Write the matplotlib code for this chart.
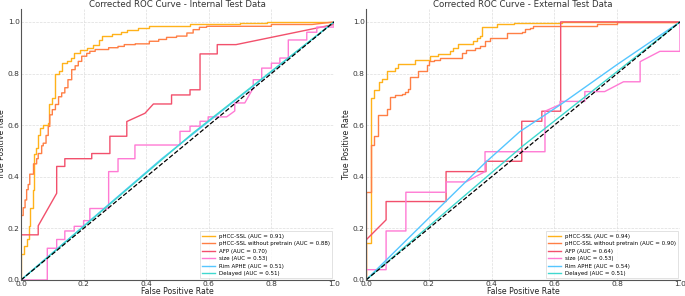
import matplotlib
matplotlib.use("Agg")
import matplotlib.pyplot as plt

labels = ["pHCC-SSL", "pHCC-SSL without pretrain", "AFP", "size", "Rim APHE", "Delayed"]
colors = ["#FFB21A", "#FF7F45", "#F2506C", "#FF7AD4", "#55C6FF", "#3FD8CF"]

# internal test data: (fpr, tpr) vertices per model
int_auc = [0.91, 0.88, 0.70, 0.53, 0.51, 0.51]
int_fpr = [
    [0, 0, 0.01, 0.01, 0.018, 0.018, 0.025, 0.025, 0.03, 0.03, 0.037, 0.037, 0.043, 0.043,
     0.047, 0.047, 0.055, 0.055, 0.06, 0.06, 0.071, 0.071, 0.085, 0.085, 0.09, 0.09, 0.1, 0.1,
     0.108, 0.108, 0.12, 0.12, 0.13, 0.13, 0.146, 0.146, 0.16, 0.16, 0.17, 0.17, 0.19, 0.19,
     0.21, 0.21, 0.23, 0.23, 0.25, 0.25, 0.26, 0.26, 0.29, 0.29, 0.32, 0.32, 0.34, 0.34,
     0.375, 0.375, 0.41, 0.41, 0.54, 0.54, 0.70, 0.70, 0.785, 0.785, 1.0],
    [0, 0, 0.007, 0.007, 0.013, 0.013, 0.018, 0.018, 0.023, 0.023, 0.028, 0.028, 0.04, 0.04,
     0.05, 0.05, 0.055, 0.055, 0.066, 0.066, 0.071, 0.071, 0.08, 0.08, 0.087, 0.087, 0.092, 0.092,
     0.1, 0.1, 0.11, 0.11, 0.12, 0.12, 0.13, 0.13, 0.14, 0.14, 0.15, 0.15, 0.162, 0.162,
     0.173, 0.173, 0.183, 0.183, 0.194, 0.194, 0.21, 0.21, 0.22, 0.22, 0.237, 0.237, 0.28, 0.28,
     0.31, 0.31, 0.33, 0.33, 0.365, 0.365, 0.41, 0.41, 0.44, 0.44, 0.465, 0.465, 0.497, 0.497,
     0.53, 0.53, 0.55, 0.55, 0.57, 0.57, 0.593, 0.593, 0.80, 0.80, 0.93, 1.0],
    [0, 0, 0.055, 0.055, 0.114, 0.114, 0.14, 0.14, 0.226, 0.226, 0.284, 0.284, 0.338, 0.338,
     0.396, 0.423, 0.481, 0.481, 0.54, 0.54, 0.572, 0.572, 0.627, 0.627, 0.687, 1.0, 1.0],
    [0, 0.084, 0.084, 0.114, 0.114, 0.14, 0.14, 0.17, 0.17, 0.2, 0.2, 0.22, 0.22, 0.28, 0.28,
     0.31, 0.31, 0.364, 0.364, 0.508, 0.508, 0.54, 0.54, 0.572, 0.572, 0.598, 0.598, 0.657,
     0.683, 0.683, 0.715, 0.742, 0.742, 0.769, 0.769, 0.80, 0.80, 0.827, 0.827, 0.854, 0.854,
     0.913, 0.913, 0.945, 0.945, 1.0, 1.0],
    [0, 0.45, 1.0],
    [0, 0.55, 1.0],
]
int_tpr = [
    [0, 0.10, 0.10, 0.13, 0.13, 0.16, 0.16, 0.21, 0.21, 0.28, 0.28, 0.35, 0.35, 0.49,
     0.49, 0.51, 0.51, 0.56, 0.56, 0.59, 0.59, 0.60, 0.60, 0.61, 0.61, 0.68, 0.68, 0.705,
     0.705, 0.80, 0.80, 0.81, 0.81, 0.84, 0.84, 0.85, 0.85, 0.86, 0.86, 0.88, 0.88, 0.893,
     0.893, 0.90, 0.90, 0.912, 0.912, 0.93, 0.93, 0.945, 0.945, 0.953, 0.953, 0.96, 0.96, 0.97,
     0.97, 0.977, 0.977, 0.983, 0.983, 0.99, 0.99, 0.995, 0.995, 1.0, 1.0],
    [0, 0.25, 0.25, 0.28, 0.28, 0.31, 0.31, 0.35, 0.35, 0.37, 0.37, 0.41, 0.41, 0.45,
     0.45, 0.47, 0.47, 0.49, 0.49, 0.52, 0.52, 0.53, 0.53, 0.56, 0.56, 0.595, 0.595, 0.64,
     0.64, 0.66, 0.66, 0.68, 0.68, 0.71, 0.71, 0.725, 0.725, 0.745, 0.745, 0.776, 0.776, 0.815,
     0.815, 0.83, 0.83, 0.847, 0.847, 0.867, 0.867, 0.878, 0.878, 0.886, 0.886, 0.893, 0.893, 0.90,
     0.90, 0.905, 0.905, 0.912, 0.912, 0.915, 0.915, 0.925, 0.925, 0.932, 0.932, 0.94, 0.94, 0.945,
     0.945, 0.957, 0.957, 0.97, 0.97, 0.979, 0.979, 0.983, 0.983, 0.99, 0.99, 1.0],
    [0, 0.175, 0.175, 0.21, 0.336, 0.44, 0.44, 0.47, 0.47, 0.49, 0.49, 0.557, 0.557, 0.614,
     0.646, 0.682, 0.682, 0.717, 0.717, 0.737, 0.737, 0.876, 0.876, 0.912, 0.912, 0.99, 1.0],
    [0, 0, 0.123, 0.123, 0.157, 0.157, 0.19, 0.19, 0.208, 0.208, 0.23, 0.23, 0.277, 0.277, 0.42,
     0.42, 0.47, 0.47, 0.523, 0.523, 0.576, 0.576, 0.596, 0.596, 0.615, 0.615, 0.632, 0.632,
     0.655, 0.686, 0.686, 0.744, 0.776, 0.776, 0.821, 0.821, 0.84, 0.84, 0.86, 0.86, 0.93,
     0.93, 0.96, 0.96, 0.98, 0.98, 1.0],
    [0, 0.47, 1.0],
    [0, 0.57, 1.0],
]

# external test data
ext_auc = [0.94, 0.90, 0.64, 0.53, 0.54, 0.51]
ext_fpr = [
    [0, 0, 0.015, 0.015, 0.026, 0.026, 0.04, 0.04, 0.05, 0.05, 0.066, 0.066, 0.092, 0.092,
     0.103, 0.103, 0.156, 0.156, 0.204, 0.204, 0.23, 0.23, 0.268, 0.268, 0.278, 0.278,
     0.294, 0.294, 0.342, 0.342, 0.352, 0.352, 0.363, 0.363, 0.37, 0.37, 0.416, 0.416,
     0.47, 0.47, 0.623, 0.623, 1.0],
    [0, 0, 0.015, 0.015, 0.026, 0.026, 0.039, 0.039, 0.066, 0.066, 0.076, 0.076, 0.092, 0.092,
     0.114, 0.114, 0.125, 0.125, 0.135, 0.135, 0.14, 0.14, 0.167, 0.167, 0.193, 0.193, 0.2, 0.2,
     0.215, 0.215, 0.236, 0.236, 0.268, 0.268, 0.305, 0.305, 0.32, 0.32, 0.347, 0.347,
     0.363, 0.363, 0.379, 0.379, 0.395, 0.395, 0.448, 0.448, 0.496, 0.496, 0.506, 0.506,
     0.522, 0.522, 0.533, 0.533, 0.735, 0.735, 0.798, 0.798, 1.0],
    [0, 0, 0.064, 0.064, 0.255, 0.255, 0.382, 0.382, 0.496, 0.496, 0.56, 0.56, 0.62, 0.62, 1.0],
    [0, 0, 0.064, 0.064, 0.127, 0.127, 0.255, 0.255, 0.318, 0.379, 0.379, 0.57, 0.57, 0.618,
     0.618, 0.697, 0.697, 0.76, 0.82, 0.873, 0.873, 0.936, 1.0, 1.0],
    [0, 0.2, 0.38, 0.49, 0.62, 0.8, 1.0],
    [0, 0.5, 1.0],
]
ext_tpr = [
    [0, 0.145, 0.145, 0.705, 0.705, 0.737, 0.737, 0.768, 0.768, 0.777, 0.777, 0.808, 0.808, 0.822,
     0.822, 0.837, 0.837, 0.854, 0.854, 0.867, 0.867, 0.876, 0.876, 0.886, 0.886, 0.90,
     0.90, 0.914, 0.914, 0.925, 0.925, 0.938, 0.938, 0.945, 0.945, 0.982, 0.982, 0.992,
     0.992, 0.997, 0.997, 1.0, 1.0],
    [0, 0.342, 0.342, 0.525, 0.525, 0.557, 0.557, 0.638, 0.638, 0.663, 0.663, 0.708, 0.708, 0.716,
     0.716, 0.721, 0.721, 0.73, 0.73, 0.74, 0.74, 0.785, 0.785, 0.808, 0.808, 0.832, 0.832, 0.847,
     0.847, 0.854, 0.854, 0.86, 0.86, 0.862, 0.862, 0.878, 0.878, 0.893, 0.893, 0.899,
     0.899, 0.906, 0.906, 0.925, 0.925, 0.937, 0.937, 0.958, 0.958, 0.962, 0.962, 0.971,
     0.971, 0.978, 0.978, 0.984, 0.984, 0.992, 0.992, 1.0, 1.0],
    [0, 0.155, 0.233, 0.304, 0.304, 0.42, 0.42, 0.46, 0.46, 0.615, 0.615, 0.654, 0.654, 1.0, 1.0],
    [0, 0.04, 0.04, 0.19, 0.19, 0.34, 0.34, 0.38, 0.38, 0.42, 0.497, 0.497, 0.654, 0.68,
     0.692, 0.692, 0.73, 0.73, 0.768, 0.768, 0.846, 0.886, 0.886, 1.0],
    [0, 0.24, 0.455, 0.575, 0.68, 0.835, 1.0],
    [0, 0.52, 1.0],
]

fig = plt.figure(figsize=(6.85, 2.96), dpi=100)
ax1 = fig.add_axes([21 / 685, 16 / 296, 313 / 685, 271 / 296])
ax2 = fig.add_axes([366 / 685, 16 / 296, 314 / 685, 271 / 296])

panels = [(ax1, "Corrected ROC Curve - Internal Test Data", int_fpr, int_tpr, int_auc),
          (ax2, "Corrected ROC Curve - External Test Data", ext_fpr, ext_tpr, ext_auc)]

for ax, title, fprs, tprs, aucs in panels:
    for fpr, tpr, auc, lab, col in zip(fprs, tprs, aucs, labels, colors):
        ax.plot(fpr, tpr, color=col, lw=1.0, label=f"{lab} (AUC = {auc:.2f})")
    ax.plot([0, 1], [0, 1], "k--", lw=0.9)
    ax.set_xlim(0, 1)
    ax.set_ylim(0, 1.05)
    ax.set_xticks([0, 0.2, 0.4, 0.6, 0.8, 1.0])
    ax.set_yticks([0, 0.2, 0.4, 0.6, 0.8, 1.0])
    ax.grid(True, color="#dddddd", ls="--", lw=0.5)
    ax.set_axisbelow(True)
    for s in ["top", "right"]:
        ax.spines[s].set_visible(False)
    for s in ["left", "bottom"]:
        ax.spines[s].set_color("#555555")
        ax.spines[s].set_linewidth(0.8)
    ax.tick_params(length=0, pad=1, labelsize=5.4, colors="#333333")
    ax.set_xlabel("False Positive Rate", fontsize=5.6, labelpad=0, color="#222222")
    ax.set_ylabel("True Positive Rate", fontsize=5.6, labelpad=1.5, color="#222222")
    ax.set_title(title, fontsize=6.2, pad=1.5, color="#333333")
    leg = ax.legend(loc="lower right", fontsize=4, frameon=True, borderaxespad=0.3,
                    handlelength=2.2, labelspacing=0.45, fancybox=False)
    leg.get_frame().set_edgecolor("#cccccc")
    leg.get_frame().set_linewidth(0.5)

fig.savefig("out.png", dpi=100)
